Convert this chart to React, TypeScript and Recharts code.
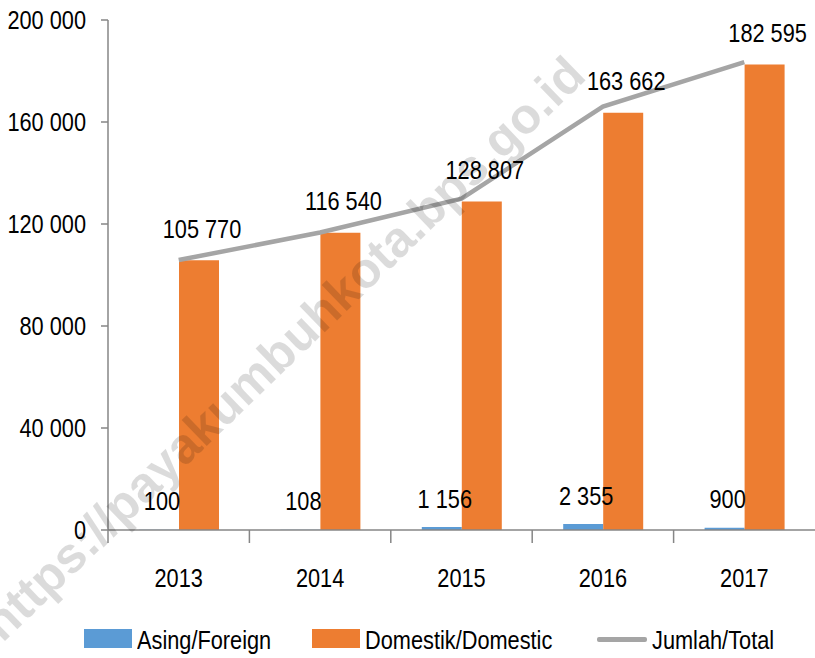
import { ComposedChart, Bar, Line, XAxis, YAxis, LabelList } from "recharts";

const years = ["2013", "2014", "2015", "2016", "2017"];
const foreign = [100, 108, 1156, 2355, 900];
const domestic = [105770, 116540, 128807, 163662, 182595];
const total = [105870, 116648, 129963, 166017, 183495];
const yTicks = [0, 40000, 80000, 120000, 160000, 200000];

const data = years.map((year, i) => ({
  year,
  foreign: foreign[i],
  domestic: domestic[i],
  total: total[i],
}));

const FONT = '"Liberation Sans", Arial, sans-serif';
const SX = 0.87; // narrow the glyphs to look like the original's condensed face
const FS = 25;
const W = 815;
const H = 658;
const YAXIS_W = 108;
const HALF_BAND = (W - YAXIS_W) / years.length / 2;
const AXIS_GRAY = "#868686";

function fmt(v: number) {
  return String(v).replace(/\B(?=(\d{3})+(?!\d))/g, " ");
}

function NarrowText({ x, y, anchor, children }: any) {
  return (
    <text
      transform={`translate(${x},${y}) scale(${SX},1)`}
      textAnchor={anchor}
      dominantBaseline="central"
      fill="#000"
      fontSize={FS}
      fontFamily={FONT}
    >
      {children}
    </text>
  );
}

function YearTick(props: any) {
  const { x, y, payload } = props;
  return (
    <g>
      <line x1={x - HALF_BAND} x2={x - HALF_BAND} y1={y} y2={y + 13} stroke={AXIS_GRAY} strokeWidth={1.5} />
      <NarrowText x={x} y={y + 48} anchor="middle">{payload.value}</NarrowText>
    </g>
  );
}

function ValueTick(props: any) {
  const { x, y, payload } = props;
  return <NarrowText x={x} y={y} anchor="end">{fmt(payload.value)}</NarrowText>;
}

function barLabel(lift: number) {
  return (p: any) => (
    <NarrowText x={p.x + p.width / 2 + 3} y={p.y - lift} anchor="middle">
      {fmt(Number(p.value))}
    </NarrowText>
  );
}

const legendItems = [
  { name: "Asing/Foreign", color: "#5B9BD5", type: "rect", left: 84, textLeft: 137 },
  { name: "Domestik/Domestic", color: "#ED7D31", type: "rect", left: 312, textLeft: 365 },
  { name: "Jumlah/Total", color: "#A5A5A5", type: "line", left: 597, textLeft: 652 },
];

export default function App() {
  return (
    <div style={{ position: "absolute", left: 0, top: 0, width: W, height: H, fontFamily: FONT, background: "#fff" }}>
      <ComposedChart
        width={W}
        height={H}
        data={data}
        margin={{ top: 20, right: 0, left: 0, bottom: 68 }}
        barGap={0}
      >
        <XAxis
          dataKey="year"
          height={60}
          axisLine={{ stroke: AXIS_GRAY, strokeWidth: 1.5 }}
          tickLine={false}
          tickSize={0}
          tickMargin={0}
          tick={<YearTick />}
          interval={0}
        />
        <YAxis
          width={YAXIS_W}
          domain={[0, 200000]}
          ticks={yTicks}
          axisLine={{ stroke: AXIS_GRAY, strokeWidth: 1.5 }}
          tickLine={{ stroke: AXIS_GRAY, strokeWidth: 1.5 }}
          tickSize={7}
          tickMargin={15}
          tick={<ValueTick />}
          interval={0}
        />
        <Bar dataKey="foreign" fill="#5B9BD5" barSize={40} isAnimationActive={false}>
          <LabelList dataKey="foreign" content={barLabel(28)} />
        </Bar>
        <Bar dataKey="domestic" fill="#ED7D31" barSize={40} isAnimationActive={false}>
          <LabelList dataKey="domestic" content={barLabel(31)} />
        </Bar>
        <Line dataKey="total" stroke="#A5A5A5" strokeWidth={4.5} dot={false} activeDot={false} isAnimationActive={false} />
      </ComposedChart>

      {legendItems.map((item) => (
        <div key={item.name}>
          {item.type === "rect" ? (
            <div style={{ position: "absolute", left: item.left, top: 629, width: 48, height: 19, background: item.color }} />
          ) : (
            <div style={{ position: "absolute", left: item.left, top: 637, width: 50, height: 4.5, borderRadius: 2, background: item.color }} />
          )}
          <span
            style={{
              position: "absolute",
              left: item.textLeft,
              top: 625,
              fontSize: FS,
              lineHeight: "30px",
              color: "#000",
              whiteSpace: "nowrap",
              transform: `scaleX(${SX})`,
              transformOrigin: "left center",
            }}
          >
            {item.name}
          </span>
        </div>
      ))}

      <svg width={W} height={H} style={{ position: "absolute", left: 0, top: 0, pointerEvents: "none" }}>
        <text
          x={588}
          y={78}
          textAnchor="end"
          transform="rotate(-44 588 78)"
          fontFamily="Arial, Liberation Sans, sans-serif"
          fontWeight="bold"
          fontSize={50}
          fill="rgba(0,0,0,0.14)"
        >
          https://payakumbuhkota.bps.go.id
        </text>
      </svg>
    </div>
  );
}
